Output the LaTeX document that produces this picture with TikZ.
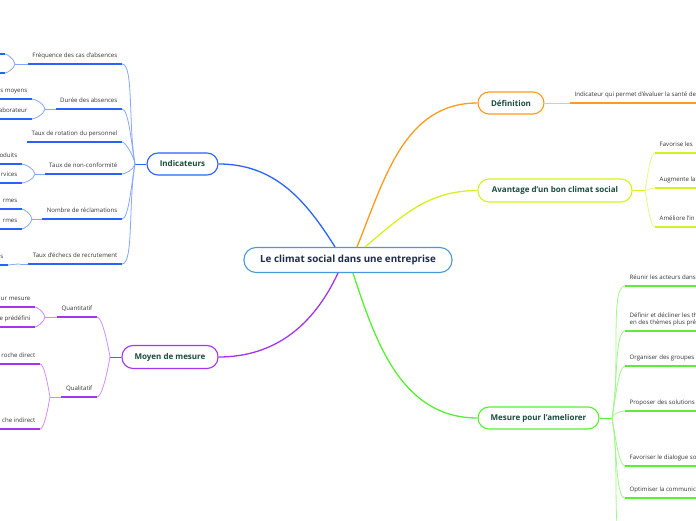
\documentclass[tikz,border=0pt]{standalone}
\usepackage{fontspec}
\setmainfont{Open Sans}
\usetikzlibrary{calc}

\definecolor{blu}{HTML}{2A62FF}
\definecolor{bluL}{HTML}{86A6FF}
\definecolor{ctr}{HTML}{4A98DC}
\definecolor{pur}{HTML}{A235F0}
\definecolor{purL}{HTML}{CD8CFF}
\definecolor{ora}{HTML}{FF9A1C}
\definecolor{oraL}{HTML}{FFC47E}
\definecolor{yel}{HTML}{D6F21E}
\definecolor{yelL}{HTML}{E6F884}
\definecolor{grn}{HTML}{58F032}
\definecolor{grnL}{HTML}{A2F68C}
\definecolor{dkgreen}{HTML}{1B4B3D}
\definecolor{navy}{HTML}{1E2C4C}
\definecolor{txt}{HTML}{333333}

\begin{document}
\begin{tikzpicture}[x=1pt,y=1pt]
	\tikzstyle{topic}=[draw, fill=white, rounded corners=11pt, line width=1.1pt, minimum height=22pt, inner xsep=0pt, font=\bfseries\fontsize{8}{9}\selectfont, text=dkgreen]
	\tikzstyle{item}=[inner xsep=4.5pt, inner ysep=0pt, text height=4.8pt, text depth=6pt, font=\fontsize{6.1}{7.2}\selectfont, text=txt]
	\tikzstyle{uline}=[line width=1.6pt]
	\tikzstyle{twig}=[line width=0.8pt, in looseness=0.3]
	\useasboundingbox (0,0) rectangle (696,520);
	\clip (0,0) rectangle (696,520);
	\coordinate (lft) at (-5,0);
	\coordinate (rgt) at (701,0);
	%
	% main topics
	\node[topic, draw=ctr, text=navy, minimum width=208pt, minimum height=25pt, rounded corners=12pt, font=\bfseries\fontsize{9.8}{11}\selectfont] (centre) at (348,260) {Le climat social dans une entreprise};
	\node[topic, draw=blu, minimum width=71pt] (ind) at (182.5,356) {Indicateurs};
	\node[topic, draw=pur, minimum width=96pt, minimum height=23pt] (moy) at (170,163) {Moyen de mesure};
	\node[topic, draw=ora, minimum width=66pt] (def) at (511,417) {Définition};
	\node[topic, draw=yel, minimum width=154pt, minimum height=23pt] (av) at (555,329.5) {Avantage d'un bon climat social};
	\node[topic, draw=grn, minimum width=121pt] (mes) at (538.5,102) {Mesure pour l'ameliorer};
	%
	\draw[blu, line width=1.3pt] ([xshift=-13pt]centre.north) to[out=122,in=0] (ind.east);
	\draw[ora, line width=1.3pt] ([xshift=9pt]centre.north) to[out=68,in=180] (def.west);
	\draw[yel, line width=1.3pt] ([xshift=17pt]centre.north) to[out=40,in=180] (av.west);
	\draw[pur, line width=1.3pt] ([xshift=-10pt]centre.south) to[out=-115,in=0] (moy.east);
	\draw[grn, line width=1.3pt] ([xshift=5pt]centre.south) to[out=-72,in=180] (mes.west);
	%
	% Indicateurs
	\coordinate (jInd) at (135,356);
	\draw[blu, twig] (ind.west) -- (jInd);
	\node[item, anchor=south east] (ind1) at (122,456) {Fréquence des cas d'absences};
	\node[item, anchor=south east] (ind2) at (122,411) {Durée des absences};
	\node[item, anchor=south east] (ind3) at (122,378) {Taux de rotation du personnel};
	\node[item, anchor=south east] (ind4) at (122,346) {Taux de non-conformité};
	\node[item, anchor=south east] (ind5) at (122,301) {Nombre de réclamations};
	\node[item, anchor=south east] (ind6) at (122,256) {Taux d'échecs de recrutement};
	\foreach \n in {ind1,ind2,ind3} {
		\draw[bluL, twig] (jInd) to[out=100,in=0] (\n.south east);
		\draw[blu, uline] (\n.south west) -- (\n.south east);
	}
	\foreach \n in {ind4,ind5,ind6} {
		\draw[bluL, twig] (jInd) to[out=-100,in=0] (\n.south east);
		\draw[blu, uline] (\n.south west) -- (\n.south east);
	}
	% cut off on the left
	\coordinate (j1) at (15,456);
	\coordinate (ind1a) at (5,466);
	\coordinate (ind1b) at (5,447);
	\coordinate (j2) at (45,411);
	\node[item, anchor=south east] (ind2a) at (32,421) {s moyens};
	\node[item, anchor=south east] (ind2b) at (32,401) {aborateur};
	\coordinate (j4) at (35,346);
	\node[item, anchor=south east] (ind4a) at (22,356) {oduits};
	\node[item, anchor=south east] (ind4b) at (22,337) {rvices};
	\coordinate (j5) at (32,301);
	\node[item, anchor=south east] (ind5a) at (22,311) {rmes};
	\node[item, anchor=south east] (ind5b) at (22,291) {rmes};
	\coordinate (j6) at (20,256);
	\node[item, anchor=south east] (ind6a) at (8,255) {s};
	%
	\draw[bluL, twig] (ind1.south west) -- (j1) (ind2.south west) -- (j2) (ind4.south west) -- (j4) (ind5.south west) -- (j5) (ind6.south west) -- (j6);
	\draw[bluL, twig] (j1) to[out=100,in=0] (ind1a) (j1) to[out=-100,in=0] (ind1b);
	\draw[blu, uline] (ind1a) -- (ind1a -| lft) (ind1b) -- (ind1b -| lft);
	\foreach \j/\a/\b in {j2/ind2a/ind2b, j4/ind4a/ind4b, j5/ind5a/ind5b} {
		\draw[bluL, twig] (\j) to[out=100,in=0] (\a.south east);
		\draw[bluL, twig] (\j) to[out=-100,in=0] (\b.south east);
		\draw[blu, uline] (\a.south east) -- (\a.south east -| lft);
		\draw[blu, uline] (\b.south east) -- (\b.south east -| lft);
	}
	\draw[bluL, twig] (j6) to[out=180,in=0] (ind6a.south east);
	\draw[blu, uline] (ind6a.south east) -- (ind6a.south east -| lft);
	%
	% Moyen de mesure
	\coordinate (jMoy) at (110,163);
	\draw[pur, twig] (moy.west) -- (jMoy);
	\node[item, anchor=south east] (moy1) at (97,203) {Quantitatif};
	\node[item, anchor=south east] (moy2) at (97,123) {Qualitatif};
	\draw[purL, twig] (jMoy) to[out=100,in=0] (moy1.south east);
	\draw[purL, twig] (jMoy) to[out=-100,in=0] (moy2.south east);
	\draw[pur, uline] (moy1.south west) -- (moy1.south east) (moy2.south west) -- (moy2.south east);
	\coordinate (jm1) at (45,203);
	\coordinate (jm2) at (50,123);
	\node[item, anchor=south east] (moy1a) at (35,213) {ur mesure};
	\node[item, anchor=south east] (moy1b) at (35,193) {e prédéfini};
	\node[item, anchor=south east] (moy2a) at (40,156) {roche direct};
	\node[item, anchor=south east] (moy2b) at (40,91) {che indirect};
	\draw[purL, twig] (moy1.south west) -- (jm1) (moy2.south west) -- (jm2);
	\foreach \j/\a/\b in {jm1/moy1a/moy1b, jm2/moy2a/moy2b} {
		\draw[purL, twig] (\j) to[out=100,in=0] (\a.south east);
		\draw[purL, twig] (\j) to[out=-100,in=0] (\b.south east);
		\draw[pur, uline] (\a.south east) -- (\a.south east -| lft);
		\draw[pur, uline] (\b.south east) -- (\b.south east -| lft);
	}
	%
	% Definition
	\node[item, anchor=south west] (def1) at (570,417) {Indicateur qui permet d'évaluer la santé des};
	\draw[oraL, twig] (def.east) -- (def1.south west);
	\draw[ora, uline] (def1.south west) -- (def1.south west -| rgt);
	%
	% Avantage
	\coordinate (jAv) at (645,329.5);
	\draw[yel, twig] (av.east) -- (jAv);
	\node[item, anchor=south west] (av1) at (655,367) {Favorise les};
	\node[item, anchor=south west] (av2) at (655,332) {Augmente la};
	\node[item, anchor=south west] (av3) at (655,293) {Améliore l'in};
	\draw[yelL, twig] (jAv) to[out=80,in=180] (av1.south west);
	\draw[yelL, twig] (jAv) to[out=20,in=180] (av2.south west);
	\draw[yelL, twig] (jAv) to[out=-80,in=180] (av3.south west);
	\foreach \n in {av1,av2,av3}
		\draw[yel, uline] (\n.south west) -- (\n.south west -| rgt);
	%
	% Mesure pour l'ameliorer
	\coordinate (jMes) at (612,102);
	\draw[grn, twig] (mes.east) -- (jMes);
	\node[item, anchor=south west] (mes1) at (625,234) {Réunir les acteurs dans};
	\node[item, anchor=south west, align=left] (mes2) at (625,189) {Définir et décliner les th\\en des thèmes plus préc};
	\node[item, anchor=south west] (mes3) at (625,154) {Organiser des groupes d};
	\node[item, anchor=south west] (mes4) at (625,109) {Proposer des solutions c};
	\node[item, anchor=south west] (mes5) at (625,54) {Favoriser le dialogue so};
	\node[item, anchor=south west] (mes6) at (625,22) {Optimiser la communica};
	\coordinate (mes7) at (625,-25);
	\foreach \n in {mes1,mes2,mes3,mes4} {
		\draw[grnL, twig] (jMes) to[out=80,in=180] (\n.south west);
		\draw[grn, uline] (\n.south west) -- (\n.south west -| rgt);
	}
	\foreach \n in {mes5,mes6} {
		\draw[grnL, twig] (jMes) to[out=-80,in=180] (\n.south west);
		\draw[grn, uline] (\n.south west) -- (\n.south west -| rgt);
	}
	\draw[grnL, twig] (jMes) to[out=-80,in=180] (mes7);
\end{tikzpicture}
\end{document}
